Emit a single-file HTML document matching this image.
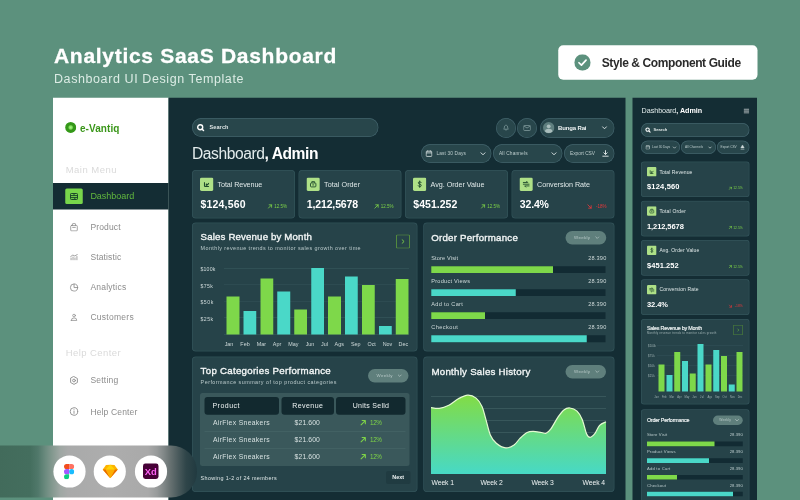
<!DOCTYPE html>
<html lang="en"><head><meta charset="utf-8"><title>Analytics SaaS Dashboard</title>
<style>
html,body{margin:0;padding:0}
html{overflow:hidden;background:#5c917d}
body{width:800px;height:500px;overflow:hidden;position:relative;background:#5c917d;font-family:"Liberation Sans", sans-serif;}
#frame{position:absolute;left:0;top:0;width:800px;height:500px;overflow:hidden;background:#5c917d}
#stage{position:absolute;left:0;top:0;width:3200px;height:2000px;transform:scale(0.25);transform-origin:0 0}
span,div,svg{box-sizing:border-box}
</style></head><body>
<div id="frame"><div id="stage">
<span id="t0" style="position:absolute;top:181.69px;font-size:84.00px;line-height:1;color:#fff;font-weight:700;white-space:nowrap;letter-spacing:2.816px;left:216.00px;-webkit-text-stroke:1.20px #fff;">Analytics SaaS Dashboard</span>
<span id="t1" style="position:absolute;top:290.48px;font-size:50.00px;line-height:1;color:#dcece5;font-weight:400;white-space:nowrap;letter-spacing:2.360px;left:216.00px;">Dashboard UI Design Template</span>
<div style="position:absolute;left:2233.20px;top:180.80px;width:797.20px;height:138.40px;background:#fff;border-radius:20.00px;"></div>
<svg style="position:absolute;left:2297.20px;top:217.20px" width="65.60" height="65.60" viewBox="0 0 16.4 16.4"><circle cx="8.2" cy="8.2" r="8.2" fill="#5c917d"/><path d="M4.7 8.5 L7.2 10.9 L11.8 5.9" fill="none" stroke="#fff" stroke-width="1.7" stroke-linecap="round" stroke-linejoin="round"/></svg>
<span id="t2" style="position:absolute;top:225.77px;font-size:48.00px;line-height:1;color:#2b2b2b;font-weight:700;white-space:nowrap;letter-spacing:-1.568px;left:2406.80px;">Style &amp; Component Guide</span>
<div style="position:absolute;left:212.00px;top:390.80px;width:462.40px;height:1609.20px;background:#fff;border-radius:0.00px;"></div>
<svg style="position:absolute;left:259.60px;top:486.80px" width="45.60" height="45.60" viewBox="0 0 11.4 11.4"><defs><radialGradient id="lg"><stop offset="0" stop-color="#a6f488"/><stop offset="0.28" stop-color="#84e25e"/><stop offset="0.5" stop-color="#36961a"/><stop offset="1" stop-color="#339a17"/></radialGradient></defs><circle cx="5.7" cy="5.7" r="5.5" fill="url(#lg)"/></svg>
<span id="t3" style="position:absolute;top:491.74px;font-size:40.00px;line-height:1;color:#3a9619;font-weight:700;white-space:nowrap;letter-spacing:0.252px;left:320.00px;">e-Vantiq</span>
<span id="t4" style="position:absolute;top:659.83px;font-size:38.00px;line-height:1;color:#dadada;font-weight:400;white-space:nowrap;letter-spacing:1.912px;left:262.80px;">Main Menu</span>
<div style="position:absolute;left:212.00px;top:732.00px;width:462.40px;height:105.60px;background:#142d34;border-radius:0.00px;"></div>
<div style="position:absolute;left:260.80px;top:754.40px;width:70.40px;height:61.60px;background:#78d64b;border-radius:6.00px;"></div>
<svg style="position:absolute;left:280.00px;top:772.00px" width="32.00" height="28.00" viewBox="0 0 8 7"><g fill="none" stroke="#1c4a2a" stroke-width="1"><rect x="0.5" y="0.5" width="7" height="6" rx="0.8"/><path d="M0.5 2.6H7.5M0.5 4.6H7.5M4 0.5V2.6M4.8 4.6V6.5"/></g></svg>
<span id="t5" style="position:absolute;top:767.13px;font-size:36.00px;line-height:1;color:#62b83e;font-weight:400;white-space:nowrap;letter-spacing:-0.104px;left:361.60px;">Dashboard</span>
<span id="t6" style="position:absolute;top:890.42px;font-size:34.00px;line-height:1;color:#8c8c8c;font-weight:400;white-space:nowrap;letter-spacing:0.632px;left:361.60px;">Product</span>
<span id="t7" style="position:absolute;top:1012.42px;font-size:34.00px;line-height:1;color:#8c8c8c;font-weight:400;white-space:nowrap;letter-spacing:0.552px;left:361.60px;">Statistic</span>
<span id="t8" style="position:absolute;top:1132.42px;font-size:34.00px;line-height:1;color:#8c8c8c;font-weight:400;white-space:nowrap;letter-spacing:0.880px;left:361.60px;">Analytics</span>
<span id="t9" style="position:absolute;top:1252.42px;font-size:34.00px;line-height:1;color:#8c8c8c;font-weight:400;white-space:nowrap;letter-spacing:1.068px;left:361.60px;">Customers</span>
<span id="t10" style="position:absolute;top:1393.43px;font-size:38.00px;line-height:1;color:#dadada;font-weight:400;white-space:nowrap;letter-spacing:1.676px;left:262.80px;">Help Center</span>
<span id="t11" style="position:absolute;top:1504.42px;font-size:34.00px;line-height:1;color:#8c8c8c;font-weight:400;white-space:nowrap;letter-spacing:0.876px;left:361.60px;">Setting</span>
<span id="t12" style="position:absolute;top:1629.22px;font-size:34.00px;line-height:1;color:#8c8c8c;font-weight:400;white-space:nowrap;letter-spacing:0.600px;left:361.60px;">Help Center</span>
<svg style="position:absolute;left:280.00px;top:890.80px" width="32.00" height="35.60" viewBox="0 0 9 10"><g fill="none" stroke="#8c8c8c" stroke-width="0.9" stroke-linecap="round" stroke-linejoin="round"><rect x="0.8" y="3" width="7.4" height="6.2" rx="1"/><path d="M2.8 3V1.6Q2.8 0.8 3.6 0.8H5.4Q6.2 0.8 6.2 1.6V3M3 5.2H6"/></g></svg>
<svg style="position:absolute;left:280.00px;top:1016.00px" width="32.00" height="25.60" viewBox="0 0 9 7.2"><g fill="none" stroke="#8c8c8c" stroke-width="0.9" stroke-linecap="round" stroke-linejoin="round"><path d="M1.2 6.7V4.6M3.4 6.7V3.4M5.6 6.7V4.4M7.8 6.7V2.8M0.8 2.8L3.2 1.2L5.4 2.2L8.2 0.6"/></g></svg>
<svg style="position:absolute;left:279.20px;top:1132.80px" width="34.40" height="34.40" viewBox="0 0 9 9"><g fill="none" stroke="#8c8c8c" stroke-width="0.9" stroke-linecap="round" stroke-linejoin="round"><circle cx="4.5" cy="4.5" r="3.8"/><path d="M4.5 0.7V4.5H8.3"/></g></svg>
<svg style="position:absolute;left:280.80px;top:1253.60px" width="30.40" height="30.40" viewBox="0 0 9 9"><g fill="none" stroke="#8c8c8c" stroke-width="0.9" stroke-linecap="round" stroke-linejoin="round"><circle cx="4.5" cy="2.4" r="1.6"/><path d="M1.2 8.2H7.8Q7.8 5.2 4.5 5.2Q1.2 5.2 1.2 8.2Z"/></g></svg>
<svg style="position:absolute;left:278.00px;top:1504.00px" width="36.00" height="36.00" viewBox="0 0 9 9"><g fill="none" stroke="#8c8c8c" stroke-width="0.9" stroke-linecap="round" stroke-linejoin="round"><path d="M4.5 0.6 L7.9 2.5 V6.5 L4.5 8.4 L1.1 6.5 V2.5 Z"/><circle cx="4.5" cy="4.5" r="1.4"/></g></svg>
<svg style="position:absolute;left:278.00px;top:1628.00px" width="36.00" height="36.00" viewBox="0 0 9 9"><g fill="none" stroke="#8c8c8c" stroke-width="0.9" stroke-linecap="round" stroke-linejoin="round"><circle cx="4.5" cy="4.5" r="3.8"/><path d="M4.5 4.2V6.4M4.5 2.7V2.8"/></g></svg>
<div style="position:absolute;left:674.40px;top:390.80px;width:1828.00px;height:1609.20px;background:#142d34;border-radius:0.00px;"></div>
<div style="position:absolute;left:768.00px;top:472.00px;width:745.60px;height:76.00px;background:#28464b;border-radius:38.00px;box-shadow:inset 0 0 0 2.80px #40616a;"></div>
<svg style="position:absolute;left:786.00px;top:494.00px" width="32.00" height="32.00" viewBox="0 0 8 8"><circle cx="3.7" cy="3.7" r="2.5" fill="none" stroke="#fff" stroke-width="1.4"/><path d="M5.7 5.7L7.2 7.2" stroke="#fff" stroke-width="1.5" stroke-linecap="round"/></svg>
<span id="t13" style="position:absolute;top:496.98px;font-size:22.00px;line-height:1;color:#dfe6e6;font-weight:700;white-space:nowrap;letter-spacing:0.568px;left:837.60px;">Search</span>
<div style="position:absolute;left:1984.00px;top:472.00px;width:80.00px;height:80.00px;background:#28464b;border-radius:40.00px;box-shadow:inset 0 0 0 2.80px #40616a;"></div>
<svg style="position:absolute;left:2012.00px;top:497.20px" width="24.00" height="27.00" viewBox="0 0 8 9"><path d="M4 0.8Q6.4 1.5 6.4 5.2L7 6.6H1L1.6 5.2Q1.6 1.5 4 0.8ZM3 7.6H5" fill="none" stroke="#7f9a9b" stroke-width="1" stroke-linejoin="round"/></svg>
<div style="position:absolute;left:2068.00px;top:472.00px;width:80.00px;height:80.00px;background:#28464b;border-radius:40.00px;box-shadow:inset 0 0 0 2.80px #40616a;"></div>
<svg style="position:absolute;left:2092.80px;top:500.00px" width="30.40" height="23.60" viewBox="0 0 9 7"><rect x="0.5" y="0.5" width="8" height="6" rx="0.8" fill="none" stroke="#7f9a9b" stroke-width="1"/><path d="M0.8 1.2L4.5 3.6L8.2 1.2" fill="none" stroke="#7f9a9b" stroke-width="1"/></svg>
<div style="position:absolute;left:2160.00px;top:472.00px;width:297.60px;height:80.00px;background:#28464b;border-radius:40.00px;box-shadow:inset 0 0 0 2.80px #40616a;"></div>
<svg style="position:absolute;left:2172.00px;top:488.00px" width="45.60" height="45.60" viewBox="0 0 11.4 11.4"><circle cx="5.7" cy="5.7" r="5.7" fill="#5f7f7f"/><circle cx="5.7" cy="4.3" r="1.9" fill="#a9bdbc"/><path d="M2 9.4Q2 6.8 5.7 6.8Q9.4 6.8 9.4 9.4Q7.8 11 5.7 11Q3.6 11 2 9.4Z" fill="#a9bdbc"/></svg>
<span id="t14" style="position:absolute;top:498.48px;font-size:24.00px;line-height:1;color:#f0f4f4;font-weight:700;white-space:nowrap;letter-spacing:-0.564px;left:2232.00px;">Bunga Rai</span>
<svg style="position:absolute;left:2406.00px;top:502.00px" width="24.00" height="20.00" viewBox="0 0 6 5"><path d="M1 1.3L3 3.3L5 1.3" fill="none" stroke="#e8eeee" stroke-width="0.9" stroke-linecap="round" stroke-linejoin="round"/></svg>
<span id="t15" style="position:absolute;top:581.58px;font-size:62.40px;line-height:1;color:#e3ecec;font-weight:400;white-space:nowrap;letter-spacing:-1.732px;left:768.00px;">Dashboard<b style="color:#fff">, Admin</b></span>
<div style="position:absolute;left:1684.00px;top:576.00px;width:282.40px;height:76.00px;background:#28464b;border-radius:38.00px;box-shadow:inset 0 0 0 2.80px #40616a;"></div>
<svg style="position:absolute;left:1702.00px;top:600.00px" width="28.00" height="28.00" viewBox="0 0 7 7"><rect x="0.6" y="1.2" width="5.8" height="5.2" rx="0.8" fill="none" stroke="#dfe8e8" stroke-width="0.8"/><path d="M0.6 2.9H6.4M2.2 0.4V1.6M4.8 0.4V1.6" stroke="#dfe8e8" stroke-width="0.8"/></svg>
<span id="t16" style="position:absolute;top:604.15px;font-size:19.20px;line-height:1;color:#bccccc;font-weight:400;white-space:nowrap;letter-spacing:0.500px;left:1746.00px;">Last 30 Days</span>
<svg style="position:absolute;left:1920.00px;top:606.00px" width="24.00" height="20.00" viewBox="0 0 6 5"><path d="M1 1.3L3 3.3L5 1.3" fill="none" stroke="#e8eeee" stroke-width="0.9" stroke-linecap="round" stroke-linejoin="round"/></svg>
<div style="position:absolute;left:1972.00px;top:576.00px;width:278.40px;height:76.00px;background:#28464b;border-radius:38.00px;box-shadow:inset 0 0 0 2.80px #40616a;"></div>
<span id="t17" style="position:absolute;top:604.15px;font-size:19.20px;line-height:1;color:#bccccc;font-weight:400;white-space:nowrap;letter-spacing:0.588px;left:1996.00px;">All Channels</span>
<svg style="position:absolute;left:2204.00px;top:606.00px" width="24.00" height="20.00" viewBox="0 0 6 5"><path d="M1 1.3L3 3.3L5 1.3" fill="none" stroke="#e8eeee" stroke-width="0.9" stroke-linecap="round" stroke-linejoin="round"/></svg>
<div style="position:absolute;left:2256.00px;top:576.00px;width:201.60px;height:76.00px;background:#28464b;border-radius:38.00px;box-shadow:inset 0 0 0 2.80px #40616a;"></div>
<span id="t18" style="position:absolute;top:604.15px;font-size:19.20px;line-height:1;color:#bccccc;font-weight:400;white-space:nowrap;letter-spacing:-0.024px;left:2280.00px;">Export CSV</span>
<svg style="position:absolute;left:2408.00px;top:600.00px" width="28.00" height="28.00" viewBox="0 0 7 7"><path d="M3.5 0.6V4.2M1.8 2.8L3.5 4.5L5.2 2.8M0.8 6.2H6.2" fill="none" stroke="#e8eeee" stroke-width="0.9" stroke-linecap="round" stroke-linejoin="round"/></svg>
<div style="position:absolute;left:768.00px;top:680.00px;width:412.00px;height:194.40px;background:#264349;border-radius:16.00px;box-shadow:inset 0 0 0 2.80px #33545a;"></div>
<svg style="position:absolute;left:800.00px;top:710.40px" width="53.60" height="53.60" viewBox="0 0 13.4 13.4"><rect width="13.4" height="13.4" rx="1.6" fill="#aee087"/><g transform="translate(6.7 6.7) scale(0.82) translate(-6.7 -6.7)"><path d="M4 9.6V4.2M4 9.6H9.4M6.2 9.6V6.4L7.8 7.6L9.2 5.2" fill="none" stroke="#1f4a2c" stroke-width="1.3" stroke-linejoin="round"/></g></svg>
<span id="t19" style="position:absolute;top:722.82px;font-size:28.80px;line-height:1;color:#dfe8e8;font-weight:400;white-space:nowrap;letter-spacing:-0.440px;left:870.40px;">Total Revenue</span>
<span id="t20" style="position:absolute;top:796.45px;font-size:42.00px;line-height:1;color:#fff;font-weight:700;white-space:nowrap;letter-spacing:0.800px;left:801.60px;">$124,560</span>
<svg style="position:absolute;left:1070.00px;top:816.00px" width="20.00" height="20.00" viewBox="0 0 6 6"><path d="M1 5L5 1M2 1H5V4" fill="none" stroke="#7ed348" stroke-width="1" stroke-linecap="round" stroke-linejoin="round"/></svg>
<span id="t21" style="position:absolute;top:816.76px;font-size:18.00px;line-height:1;color:#7ed348;font-weight:400;white-space:nowrap;right:2052.00px;">12.5%</span>
<div style="position:absolute;left:1193.88px;top:680.00px;width:412.00px;height:194.40px;background:#264349;border-radius:16.00px;box-shadow:inset 0 0 0 2.80px #33545a;"></div>
<svg style="position:absolute;left:1225.88px;top:710.40px" width="53.60" height="53.60" viewBox="0 0 13.4 13.4"><rect width="13.4" height="13.4" rx="1.6" fill="#aee087"/><g transform="translate(6.7 6.7) scale(0.82) translate(-6.7 -6.7)"><path d="M4.4 5.2H9Q10 5.2 10 6.2V9Q10 10 9 10H4.4Q3.4 10 3.4 9V6.2Q3.4 5.2 4.4 5.2ZM5 5V3.6H8.4V5M5.6 7.6H7.8" fill="none" stroke="#1f4a2c" stroke-width="1.1" stroke-linejoin="round"/></g></svg>
<span id="t22" style="position:absolute;top:722.82px;font-size:28.80px;line-height:1;color:#dfe8e8;font-weight:400;white-space:nowrap;letter-spacing:0.144px;left:1296.28px;">Total Order</span>
<span id="t23" style="position:absolute;top:796.45px;font-size:42.00px;line-height:1;color:#fff;font-weight:700;white-space:nowrap;letter-spacing:-0.620px;left:1227.48px;">1,212,5678</span>
<svg style="position:absolute;left:1495.88px;top:816.00px" width="20.00" height="20.00" viewBox="0 0 6 6"><path d="M1 5L5 1M2 1H5V4" fill="none" stroke="#7ed348" stroke-width="1" stroke-linecap="round" stroke-linejoin="round"/></svg>
<span id="t24" style="position:absolute;top:816.76px;font-size:18.00px;line-height:1;color:#7ed348;font-weight:400;white-space:nowrap;right:1626.12px;">12.5%</span>
<div style="position:absolute;left:1619.76px;top:680.00px;width:412.00px;height:194.40px;background:#264349;border-radius:16.00px;box-shadow:inset 0 0 0 2.80px #33545a;"></div>
<svg style="position:absolute;left:1651.76px;top:710.40px" width="53.60" height="53.60" viewBox="0 0 13.4 13.4"><rect width="13.4" height="13.4" rx="1.6" fill="#aee087"/><g transform="translate(6.7 6.7) scale(0.82) translate(-6.7 -6.7)"><path d="M8.6 4.8Q8.2 3.8 6.7 3.8Q5 3.8 5 5.1Q5 6.3 6.7 6.6Q8.6 6.9 8.6 8.2Q8.6 9.6 6.7 9.6Q5.2 9.6 4.8 8.5M6.7 2.8V10.6" fill="none" stroke="#1f4a2c" stroke-width="1.1" stroke-linecap="round"/></g></svg>
<span id="t25" style="position:absolute;top:722.82px;font-size:28.80px;line-height:1;color:#dfe8e8;font-weight:400;white-space:nowrap;letter-spacing:-0.140px;left:1722.16px;">Avg. Order Value</span>
<span id="t26" style="position:absolute;top:796.45px;font-size:42.00px;line-height:1;color:#fff;font-weight:700;white-space:nowrap;letter-spacing:0.100px;left:1653.36px;">$451.252</span>
<svg style="position:absolute;left:1921.76px;top:816.00px" width="20.00" height="20.00" viewBox="0 0 6 6"><path d="M1 5L5 1M2 1H5V4" fill="none" stroke="#7ed348" stroke-width="1" stroke-linecap="round" stroke-linejoin="round"/></svg>
<span id="t27" style="position:absolute;top:816.76px;font-size:18.00px;line-height:1;color:#7ed348;font-weight:400;white-space:nowrap;right:1200.24px;">12.5%</span>
<div style="position:absolute;left:2045.64px;top:680.00px;width:412.00px;height:194.40px;background:#264349;border-radius:16.00px;box-shadow:inset 0 0 0 2.80px #33545a;"></div>
<svg style="position:absolute;left:2077.64px;top:710.40px" width="53.60" height="53.60" viewBox="0 0 13.4 13.4"><rect width="13.4" height="13.4" rx="1.6" fill="#aee087"/><g transform="translate(6.7 6.7) scale(0.82) translate(-6.7 -6.7)"><path d="M3.2 4.6H8.6L7.2 3.2M10.2 8.8H4.8L6.2 10.2M3.2 6.7H10.2" fill="none" stroke="#1f4a2c" stroke-width="1.1" stroke-linecap="round" stroke-linejoin="round"/></g></svg>
<span id="t28" style="position:absolute;top:722.82px;font-size:28.80px;line-height:1;color:#dfe8e8;font-weight:400;white-space:nowrap;letter-spacing:-0.168px;left:2148.04px;">Conversion Rate</span>
<span id="t29" style="position:absolute;top:796.45px;font-size:42.00px;line-height:1;color:#fff;font-weight:700;white-space:nowrap;letter-spacing:-0.620px;left:2079.24px;">32.4%</span>
<svg style="position:absolute;left:2347.64px;top:816.00px" width="20.00" height="20.00" viewBox="0 0 6 6"><path d="M1 1L5 5M2 5H5V2" fill="none" stroke="#e5383b" stroke-width="1" stroke-linecap="round" stroke-linejoin="round"/></svg>
<span id="t30" style="position:absolute;top:816.76px;font-size:18.00px;line-height:1;color:#e5383b;font-weight:400;white-space:nowrap;right:774.36px;">-18%</span>
<div style="position:absolute;left:768.00px;top:890.00px;width:902.40px;height:516.00px;background:#264349;border-radius:16.00px;box-shadow:inset 0 0 0 2.80px #33545a;"></div>
<span id="t31" style="position:absolute;top:927.16px;font-size:38.80px;line-height:1;color:#f2f6f6;font-weight:400;white-space:nowrap;letter-spacing:0.552px;left:802.40px;-webkit-text-stroke:1.40px currentColor;">Sales Revenue by Month</span>
<span id="t32" style="position:absolute;top:982.52px;font-size:21.60px;line-height:1;color:#b9c9ca;font-weight:400;white-space:nowrap;letter-spacing:1.640px;left:802.40px;">Monthly revenue trends to monitor sales growth over time</span>
<div style="position:absolute;left:1584.00px;top:938.40px;width:56.00px;height:56.00px;background:transparent;border-radius:6.00px;box-shadow:inset 0 0 0 3.20px #5f9d3c;"></div>
<svg style="position:absolute;left:1602.00px;top:954.40px" width="20.00" height="24.00" viewBox="0 0 5 6"><path d="M1.6 1.2L3.6 3L1.6 4.8" fill="none" stroke="#7ed348" stroke-width="0.9" stroke-linecap="round" stroke-linejoin="round"/></svg>
<div style="position:absolute;left:896.00px;top:1072.40px;width:740.00px;height:2.40px;background:#35555a;border-radius:0.00px;"></div>
<span id="t33" style="position:absolute;top:1068.39px;font-size:20.80px;line-height:1;color:#cfdada;font-weight:400;white-space:nowrap;letter-spacing:0.824px;left:801.60px;">$100k</span>
<div style="position:absolute;left:896.00px;top:1138.00px;width:740.00px;height:2.40px;background:#35555a;border-radius:0.00px;"></div>
<span id="t34" style="position:absolute;top:1133.99px;font-size:20.80px;line-height:1;color:#cfdada;font-weight:400;white-space:nowrap;letter-spacing:1.724px;left:801.60px;">$75k</span>
<div style="position:absolute;left:896.00px;top:1203.60px;width:740.00px;height:2.40px;background:#35555a;border-radius:0.00px;"></div>
<span id="t35" style="position:absolute;top:1199.59px;font-size:20.80px;line-height:1;color:#cfdada;font-weight:400;white-space:nowrap;letter-spacing:2.224px;left:801.60px;">$50k</span>
<div style="position:absolute;left:896.00px;top:1269.20px;width:740.00px;height:2.40px;background:#35555a;border-radius:0.00px;"></div>
<span id="t36" style="position:absolute;top:1265.19px;font-size:20.80px;line-height:1;color:#cfdada;font-weight:400;white-space:nowrap;letter-spacing:1.924px;left:801.60px;">$25k</span>
<div style="position:absolute;left:896.00px;top:1336.40px;width:740.00px;height:2.40px;background:#35555a;border-radius:0.00px;"></div>
<div style="position:absolute;left:906.40px;top:1186.40px;width:51.20px;height:151.20px;background:#7ed84a;border-radius:0.00px;"></div>
<div style="position:absolute;left:974.08px;top:1244.00px;width:51.20px;height:93.60px;background:#4ad8c8;border-radius:0.00px;"></div>
<div style="position:absolute;left:1041.76px;top:1114.40px;width:51.20px;height:223.20px;background:#7ed84a;border-radius:0.00px;"></div>
<div style="position:absolute;left:1109.44px;top:1166.40px;width:51.20px;height:171.20px;background:#4ad8c8;border-radius:0.00px;"></div>
<div style="position:absolute;left:1177.12px;top:1237.60px;width:51.20px;height:100.00px;background:#7ed84a;border-radius:0.00px;"></div>
<div style="position:absolute;left:1244.80px;top:1072.00px;width:51.20px;height:265.60px;background:#4ad8c8;border-radius:0.00px;"></div>
<div style="position:absolute;left:1312.48px;top:1186.40px;width:51.20px;height:151.20px;background:#7ed84a;border-radius:0.00px;"></div>
<div style="position:absolute;left:1380.16px;top:1105.60px;width:51.20px;height:232.00px;background:#4ad8c8;border-radius:0.00px;"></div>
<div style="position:absolute;left:1447.84px;top:1140.00px;width:51.20px;height:197.60px;background:#7ed84a;border-radius:0.00px;"></div>
<div style="position:absolute;left:1515.52px;top:1304.00px;width:51.20px;height:33.60px;background:#4ad8c8;border-radius:0.00px;"></div>
<div style="position:absolute;left:1583.20px;top:1116.00px;width:51.20px;height:221.60px;background:#7ed84a;border-radius:0.00px;"></div>
<span id="t37" style="position:absolute;top:1365.72px;font-size:21.60px;line-height:1;color:#cfdada;font-weight:400;white-space:nowrap;left:916.00px;transform:translateX(-50%);margin-left:0.00px;">Jan</span>
<span id="t38" style="position:absolute;top:1365.72px;font-size:21.60px;line-height:1;color:#cfdada;font-weight:400;white-space:nowrap;left:980.00px;transform:translateX(-50%);margin-left:0.00px;">Feb</span>
<span id="t39" style="position:absolute;top:1365.72px;font-size:21.60px;line-height:1;color:#cfdada;font-weight:400;white-space:nowrap;left:1046.00px;transform:translateX(-50%);margin-left:0.00px;">Mar</span>
<span id="t40" style="position:absolute;top:1365.72px;font-size:21.60px;line-height:1;color:#cfdada;font-weight:400;white-space:nowrap;left:1108.00px;transform:translateX(-50%);margin-left:0.00px;">Apr</span>
<span id="t41" style="position:absolute;top:1365.72px;font-size:21.60px;line-height:1;color:#cfdada;font-weight:400;white-space:nowrap;left:1173.20px;transform:translateX(-50%);margin-left:0.00px;">May</span>
<span id="t42" style="position:absolute;top:1365.72px;font-size:21.60px;line-height:1;color:#cfdada;font-weight:400;white-space:nowrap;left:1240.00px;transform:translateX(-50%);margin-left:0.00px;">Jun</span>
<span id="t43" style="position:absolute;top:1365.72px;font-size:21.60px;line-height:1;color:#cfdada;font-weight:400;white-space:nowrap;left:1298.00px;transform:translateX(-50%);margin-left:0.00px;">Jul</span>
<span id="t44" style="position:absolute;top:1365.72px;font-size:21.60px;line-height:1;color:#cfdada;font-weight:400;white-space:nowrap;left:1356.80px;transform:translateX(-50%);margin-left:0.00px;">Ags</span>
<span id="t45" style="position:absolute;top:1365.72px;font-size:21.60px;line-height:1;color:#cfdada;font-weight:400;white-space:nowrap;left:1423.20px;transform:translateX(-50%);margin-left:0.00px;">Sep</span>
<span id="t46" style="position:absolute;top:1365.72px;font-size:21.60px;line-height:1;color:#cfdada;font-weight:400;white-space:nowrap;left:1486.60px;transform:translateX(-50%);margin-left:0.00px;">Oct</span>
<span id="t47" style="position:absolute;top:1365.72px;font-size:21.60px;line-height:1;color:#cfdada;font-weight:400;white-space:nowrap;left:1550.00px;transform:translateX(-50%);margin-left:0.00px;">Nov</span>
<span id="t48" style="position:absolute;top:1365.72px;font-size:21.60px;line-height:1;color:#cfdada;font-weight:400;white-space:nowrap;left:1613.40px;transform:translateX(-50%);margin-left:0.00px;">Dec</span>
<div style="position:absolute;left:1692.80px;top:890.00px;width:764.80px;height:516.00px;background:#264349;border-radius:16.00px;box-shadow:inset 0 0 0 2.80px #33545a;"></div>
<span id="t49" style="position:absolute;top:931.16px;font-size:38.80px;line-height:1;color:#f2f6f6;font-weight:400;white-space:nowrap;letter-spacing:0.892px;left:1724.80px;-webkit-text-stroke:1.40px currentColor;">Order Performance</span>
<div style="position:absolute;left:2261.60px;top:924.00px;width:163.60px;height:53.60px;background:#5f7f7c;border-radius:26.80px;"></div>
<span id="t50" style="position:absolute;top:941.71px;font-size:17.60px;line-height:1;color:#b7c9c7;font-weight:400;white-space:nowrap;letter-spacing:1.344px;left:2295.96px;">Weekly</span>
<svg style="position:absolute;left:2379.39px;top:942.80px" width="20.00" height="16.00" viewBox="0 0 5 4"><path d="M1 1.2L2.5 2.7L4 1.2" fill="none" stroke="#b7c9c7" stroke-width="0.7" stroke-linecap="round" stroke-linejoin="round"/></svg>
<span id="t51" style="position:absolute;top:1022.64px;font-size:22.40px;line-height:1;color:#cfdada;font-weight:400;white-space:nowrap;letter-spacing:0.580px;left:1724.80px;">Store Visit</span>
<span id="t52" style="position:absolute;top:1022.64px;font-size:22.40px;line-height:1;color:#cfdada;font-weight:400;white-space:nowrap;letter-spacing:0.784px;right:774.02px;">28.390</span>
<div style="position:absolute;left:1724.80px;top:1064.80px;width:697.60px;height:27.20px;background:#122b33;border-radius:0.00px;"></div>
<div style="position:absolute;left:1724.80px;top:1064.80px;width:487.20px;height:27.20px;background:#7ed84a;border-radius:0.00px;"></div>
<span id="t53" style="position:absolute;top:1114.84px;font-size:22.40px;line-height:1;color:#cfdada;font-weight:400;white-space:nowrap;letter-spacing:1.020px;left:1724.80px;">Product Views</span>
<span id="t54" style="position:absolute;top:1114.84px;font-size:22.40px;line-height:1;color:#cfdada;font-weight:400;white-space:nowrap;letter-spacing:0.784px;right:774.02px;">28.390</span>
<div style="position:absolute;left:1724.80px;top:1157.00px;width:697.60px;height:27.20px;background:#122b33;border-radius:0.00px;"></div>
<div style="position:absolute;left:1724.80px;top:1157.00px;width:338.40px;height:27.20px;background:#4ad8c8;border-radius:0.00px;"></div>
<span id="t55" style="position:absolute;top:1207.04px;font-size:22.40px;line-height:1;color:#cfdada;font-weight:400;white-space:nowrap;letter-spacing:1.340px;left:1724.80px;">Add to Cart</span>
<span id="t56" style="position:absolute;top:1207.04px;font-size:22.40px;line-height:1;color:#cfdada;font-weight:400;white-space:nowrap;letter-spacing:0.784px;right:774.02px;">28.390</span>
<div style="position:absolute;left:1724.80px;top:1249.20px;width:697.60px;height:27.20px;background:#122b33;border-radius:0.00px;"></div>
<div style="position:absolute;left:1724.80px;top:1249.20px;width:215.20px;height:27.20px;background:#7ed84a;border-radius:0.00px;"></div>
<span id="t57" style="position:absolute;top:1299.24px;font-size:22.40px;line-height:1;color:#cfdada;font-weight:400;white-space:nowrap;letter-spacing:1.676px;left:1724.80px;">Checkout</span>
<span id="t58" style="position:absolute;top:1299.24px;font-size:22.40px;line-height:1;color:#cfdada;font-weight:400;white-space:nowrap;letter-spacing:0.784px;right:774.02px;">28.390</span>
<div style="position:absolute;left:1724.80px;top:1341.40px;width:697.60px;height:27.20px;background:#122b33;border-radius:0.00px;"></div>
<div style="position:absolute;left:1724.80px;top:1341.40px;width:622.00px;height:27.20px;background:#4ad8c8;border-radius:0.00px;"></div>
<div style="position:absolute;left:768.00px;top:1426.00px;width:902.40px;height:542.00px;background:#264349;border-radius:16.00px;box-shadow:inset 0 0 0 2.80px #33545a;"></div>
<span id="t59" style="position:absolute;top:1463.16px;font-size:38.80px;line-height:1;color:#f2f6f6;font-weight:400;white-space:nowrap;letter-spacing:1.068px;left:802.40px;-webkit-text-stroke:1.40px currentColor;">Top Categories Performance</span>
<span id="t60" style="position:absolute;top:1518.92px;font-size:21.60px;line-height:1;color:#b9c9ca;font-weight:400;white-space:nowrap;letter-spacing:1.856px;left:802.40px;">Performance summary of top product categories</span>
<div style="position:absolute;left:1472.00px;top:1476.00px;width:162.40px;height:54.40px;background:#5f7f7c;border-radius:27.20px;"></div>
<span id="t61" style="position:absolute;top:1494.11px;font-size:17.60px;line-height:1;color:#b7c9c7;font-weight:400;white-space:nowrap;letter-spacing:1.264px;left:1506.10px;">Weekly</span>
<svg style="position:absolute;left:1588.93px;top:1495.20px" width="20.00" height="16.00" viewBox="0 0 5 4"><path d="M1 1.2L2.5 2.7L4 1.2" fill="none" stroke="#b7c9c7" stroke-width="0.7" stroke-linecap="round" stroke-linejoin="round"/></svg>
<div style="position:absolute;left:800.00px;top:1572.00px;width:838.40px;height:292.00px;background:#3a585b;border-radius:10.00px;"></div>
<div style="position:absolute;left:818.40px;top:1588.00px;width:297.60px;height:71.20px;background:#12292f;border-radius:12.00px;"></div>
<div style="position:absolute;left:1126.40px;top:1588.00px;width:209.60px;height:71.20px;background:#12292f;border-radius:12.00px;"></div>
<div style="position:absolute;left:1344.00px;top:1588.00px;width:278.40px;height:71.20px;background:#12292f;border-radius:12.00px;"></div>
<span id="t62" style="position:absolute;top:1608.30px;font-size:28.00px;line-height:1;color:#eef3f3;font-weight:400;white-space:nowrap;letter-spacing:1.984px;left:849.60px;">Product</span>
<span id="t63" style="position:absolute;top:1608.30px;font-size:28.00px;line-height:1;color:#eef3f3;font-weight:400;white-space:nowrap;letter-spacing:1.700px;left:1230.40px;transform:translateX(-50%);margin-left:0.85px;">Revenue</span>
<span id="t64" style="position:absolute;top:1608.30px;font-size:28.00px;line-height:1;color:#eef3f3;font-weight:400;white-space:nowrap;letter-spacing:1.140px;left:1483.20px;transform:translateX(-50%);margin-left:0.57px;">Units Selld</span>
<span id="t65" style="position:absolute;top:1676.98px;font-size:27.20px;line-height:1;color:#d6e0e0;font-weight:400;white-space:nowrap;letter-spacing:1.312px;left:852.00px;">AirFlex Sneakers</span>
<span id="t66" style="position:absolute;top:1676.98px;font-size:27.20px;line-height:1;color:#d6e0e0;font-weight:400;white-space:nowrap;letter-spacing:0.476px;left:1178.40px;">$21.600</span>
<svg style="position:absolute;left:1440.00px;top:1677.60px" width="25.60" height="25.60" viewBox="0 0 6 6"><path d="M1 5L5 1M2 1H5V4" fill="none" stroke="#7ed348" stroke-width="1" stroke-linecap="round" stroke-linejoin="round"/></svg>
<span id="t67" style="position:absolute;top:1678.27px;font-size:25.20px;line-height:1;color:#7ed348;font-weight:400;white-space:nowrap;letter-spacing:-1.340px;left:1480.00px;">12%</span>
<div style="position:absolute;left:818.40px;top:1723.60px;width:804.00px;height:2.00px;background:#4b6b6d;border-radius:0.00px;"></div>
<span id="t68" style="position:absolute;top:1744.98px;font-size:27.20px;line-height:1;color:#d6e0e0;font-weight:400;white-space:nowrap;letter-spacing:1.312px;left:852.00px;">AirFlex Sneakers</span>
<span id="t69" style="position:absolute;top:1744.98px;font-size:27.20px;line-height:1;color:#d6e0e0;font-weight:400;white-space:nowrap;letter-spacing:0.476px;left:1178.40px;">$21.600</span>
<svg style="position:absolute;left:1440.00px;top:1745.60px" width="25.60" height="25.60" viewBox="0 0 6 6"><path d="M1 5L5 1M2 1H5V4" fill="none" stroke="#7ed348" stroke-width="1" stroke-linecap="round" stroke-linejoin="round"/></svg>
<span id="t70" style="position:absolute;top:1746.27px;font-size:25.20px;line-height:1;color:#7ed348;font-weight:400;white-space:nowrap;letter-spacing:-1.340px;left:1480.00px;">12%</span>
<div style="position:absolute;left:818.40px;top:1791.60px;width:804.00px;height:2.00px;background:#4b6b6d;border-radius:0.00px;"></div>
<span id="t71" style="position:absolute;top:1812.98px;font-size:27.20px;line-height:1;color:#d6e0e0;font-weight:400;white-space:nowrap;letter-spacing:1.312px;left:852.00px;">AirFlex Sneakers</span>
<span id="t72" style="position:absolute;top:1812.98px;font-size:27.20px;line-height:1;color:#d6e0e0;font-weight:400;white-space:nowrap;letter-spacing:0.476px;left:1178.40px;">$21.600</span>
<svg style="position:absolute;left:1440.00px;top:1813.60px" width="25.60" height="25.60" viewBox="0 0 6 6"><path d="M1 5L5 1M2 1H5V4" fill="none" stroke="#7ed348" stroke-width="1" stroke-linecap="round" stroke-linejoin="round"/></svg>
<span id="t73" style="position:absolute;top:1814.27px;font-size:25.20px;line-height:1;color:#7ed348;font-weight:400;white-space:nowrap;letter-spacing:-1.340px;left:1480.00px;">12%</span>
<span id="t74" style="position:absolute;top:1901.72px;font-size:21.60px;line-height:1;color:#dfe8e8;font-weight:400;white-space:nowrap;letter-spacing:1.420px;left:802.40px;">Showing 1-2 of 24 members</span>
<div style="position:absolute;left:1544.00px;top:1884.00px;width:97.60px;height:52.00px;background:#203b41;border-radius:8.00px;"></div>
<span id="t75" style="position:absolute;top:1899.32px;font-size:21.60px;line-height:1;color:#eef3f3;font-weight:700;white-space:nowrap;letter-spacing:0.296px;left:1592.80px;transform:translateX(-50%);margin-left:0.15px;">Next</span>
<div style="position:absolute;left:1692.80px;top:1426.00px;width:764.80px;height:542.00px;background:#264349;border-radius:16.00px;box-shadow:inset 0 0 0 2.80px #33545a;"></div>
<span id="t76" style="position:absolute;top:1469.16px;font-size:38.80px;line-height:1;color:#f2f6f6;font-weight:400;white-space:nowrap;letter-spacing:0.992px;left:1726.00px;-webkit-text-stroke:1.40px currentColor;">Monthly Sales History</span>
<div style="position:absolute;left:2262.40px;top:1460.00px;width:161.60px;height:54.00px;background:#5f7f7c;border-radius:27.00px;"></div>
<span id="t77" style="position:absolute;top:1477.91px;font-size:17.60px;line-height:1;color:#b7c9c7;font-weight:400;white-space:nowrap;letter-spacing:1.212px;left:2296.34px;">Weekly</span>
<svg style="position:absolute;left:2378.75px;top:1479.00px" width="20.00" height="16.00" viewBox="0 0 5 4"><path d="M1 1.2L2.5 2.7L4 1.2" fill="none" stroke="#b7c9c7" stroke-width="0.7" stroke-linecap="round" stroke-linejoin="round"/></svg>
<svg style="position:absolute;left:1692.00px;top:1540.00px" width="768.00" height="380.00" viewBox="0 0 192 95"><defs><linearGradient id="ag1" x1="0" y1="0" x2="0" y2="1"><stop offset="0" stop-color="#82dc45"/><stop offset="1" stop-color="#47d9c6"/></linearGradient></defs><path d="M8.0 11.5H183.0" stroke="#456568" stroke-width="0.6"/><path d="M8.0 23.5H183.0" stroke="#456568" stroke-width="0.6"/><path d="M8.0 35.5H183.0" stroke="#456568" stroke-width="0.6"/><path d="M8.0 47.5H183.0" stroke="#456568" stroke-width="0.6"/><path d="M8.0 22.6C9.4 22.7 13.3 23.7 16.3 23.3C19.3 22.9 22.6 21.8 25.8 20.2C29.0 18.6 32.1 15.5 35.3 13.8C38.5 12.1 41.8 10.3 44.8 10.2C47.8 10.1 50.7 11.2 53.1 13.1C55.5 15.0 57.4 18.0 59.0 21.4C60.6 24.8 61.2 28.6 62.6 33.3C64.0 38.1 65.5 45.7 67.3 49.9C69.1 54.0 70.7 56.0 73.3 58.2C75.9 60.4 79.8 62.6 82.8 62.9C85.8 63.2 88.7 61.5 91.1 59.9C93.5 58.3 94.8 55.5 97.0 53.4C99.2 51.3 101.9 48.7 104.1 47.5C106.3 46.3 107.7 46.3 110.1 46.3C112.5 46.3 116.2 47.2 118.4 47.5C120.6 47.8 121.5 48.8 123.1 48.2C124.7 47.6 125.9 46.6 127.9 43.9C129.9 41.2 132.8 35.3 135.0 32.1C137.2 28.9 138.9 26.4 140.9 24.9C142.9 23.4 144.7 22.8 146.9 23.0C149.1 23.2 151.9 24.2 154.0 26.1C156.1 28.0 157.6 30.6 159.2 34.4C160.8 38.2 162.2 45.7 163.5 48.7C164.8 51.7 165.7 52.3 167.1 52.3C168.5 52.3 170.2 50.7 171.8 48.7C173.4 46.7 174.7 42.4 176.6 40.4C178.5 38.4 181.9 37.4 183.0 36.8L183.0 89.0L8.0 89.0Z" fill="url(#ag1)"/><path d="M8.0 22.6C9.4 22.7 13.3 23.7 16.3 23.3C19.3 22.9 22.6 21.8 25.8 20.2C29.0 18.6 32.1 15.5 35.3 13.8C38.5 12.1 41.8 10.3 44.8 10.2C47.8 10.1 50.7 11.2 53.1 13.1C55.5 15.0 57.4 18.0 59.0 21.4C60.6 24.8 61.2 28.6 62.6 33.3C64.0 38.1 65.5 45.7 67.3 49.9C69.1 54.0 70.7 56.0 73.3 58.2C75.9 60.4 79.8 62.6 82.8 62.9C85.8 63.2 88.7 61.5 91.1 59.9C93.5 58.3 94.8 55.5 97.0 53.4C99.2 51.3 101.9 48.7 104.1 47.5C106.3 46.3 107.7 46.3 110.1 46.3C112.5 46.3 116.2 47.2 118.4 47.5C120.6 47.8 121.5 48.8 123.1 48.2C124.7 47.6 125.9 46.6 127.9 43.9C129.9 41.2 132.8 35.3 135.0 32.1C137.2 28.9 138.9 26.4 140.9 24.9C142.9 23.4 144.7 22.8 146.9 23.0C149.1 23.2 151.9 24.2 154.0 26.1C156.1 28.0 157.6 30.6 159.2 34.4C160.8 38.2 162.2 45.7 163.5 48.7C164.8 51.7 165.7 52.3 167.1 52.3C168.5 52.3 170.2 50.7 171.8 48.7C173.4 46.7 174.7 42.4 176.6 40.4C178.5 38.4 181.9 37.4 183.0 36.8" fill="none" stroke="#e4fad2" stroke-width="1.2"/></svg>
<span id="t78" style="position:absolute;top:1914.58px;font-size:27.20px;line-height:1;color:#eef3f3;font-weight:400;white-space:nowrap;letter-spacing:-0.348px;left:1726.00px;">Week 1</span>
<span id="t79" style="position:absolute;top:1914.58px;font-size:27.20px;line-height:1;color:#eef3f3;font-weight:400;white-space:nowrap;letter-spacing:-0.348px;left:1921.60px;">Week 2</span>
<span id="t80" style="position:absolute;top:1914.58px;font-size:27.20px;line-height:1;color:#eef3f3;font-weight:400;white-space:nowrap;letter-spacing:-0.348px;left:2125.60px;">Week 3</span>
<span id="t81" style="position:absolute;top:1914.58px;font-size:27.20px;line-height:1;color:#eef3f3;font-weight:400;white-space:nowrap;letter-spacing:-0.348px;left:2330.40px;">Week 4</span>
<div style="position:absolute;left:2530.40px;top:390.80px;width:497.60px;height:1609.20px;background:#142d34;border-radius:0.00px;"></div>
<span id="t82" style="position:absolute;top:427.62px;font-size:28.80px;line-height:1;color:#e3ecec;font-weight:400;white-space:nowrap;letter-spacing:-0.236px;left:2566.40px;">Dashboard<b style="color:#fff">, Admin</b></span>
<svg style="position:absolute;left:2974.40px;top:433.60px" width="24.00" height="20.00" viewBox="0 0 6 5"><path d="M0.2 0.6H5.6M0.2 2.55H5.6M0.2 4.5H5.6" stroke="#ffffff" stroke-width="0.75"/></svg>
<div style="position:absolute;left:2564.00px;top:492.00px;width:433.60px;height:56.00px;background:#28464b;border-radius:28.00px;box-shadow:inset 0 0 0 2.80px #40616a;"></div>
<svg style="position:absolute;left:2580.00px;top:508.00px" width="24.00" height="24.00" viewBox="0 0 6 6"><circle cx="2.6" cy="2.6" r="1.7" fill="none" stroke="#fff" stroke-width="1.05"/><path d="M4 4L5.1 5.1" stroke="#fff" stroke-width="1.1" stroke-linecap="round"/></svg>
<span id="t83" style="position:absolute;top:511.66px;font-size:16.00px;line-height:1;color:#dfe6e6;font-weight:700;white-space:nowrap;letter-spacing:0.436px;left:2613.60px;">Search</span>
<div style="position:absolute;left:2564.00px;top:561.60px;width:156.00px;height:54.40px;background:#28464b;border-radius:27.20px;box-shadow:inset 0 0 0 2.80px #40616a;"></div>
<svg style="position:absolute;left:2582.00px;top:580.00px" width="17.60" height="18.40" viewBox="0 0 4.4 4.6"><rect x="0.4" y="0.6" width="3.6" height="3.6" rx="0.4" fill="none" stroke="#cfdada" stroke-width="0.6"/><path d="M0.4 1.8H4" stroke="#cfdada" stroke-width="0.6"/></svg>
<span id="t84" style="position:absolute;top:582.36px;font-size:12.80px;line-height:1;color:#b9c9ca;font-weight:400;white-space:nowrap;letter-spacing:-0.224px;left:2608.00px;">Last 30 Days</span>
<svg style="position:absolute;left:2688.00px;top:582.00px" width="20.00" height="16.00" viewBox="0 0 5 4"><path d="M1 1.2L2.5 2.7L4 1.2" fill="none" stroke="#cfdada" stroke-width="0.7"/></svg>
<div style="position:absolute;left:2724.00px;top:561.60px;width:140.00px;height:54.40px;background:#28464b;border-radius:27.20px;box-shadow:inset 0 0 0 2.80px #40616a;"></div>
<span id="t85" style="position:absolute;top:582.36px;font-size:12.80px;line-height:1;color:#b9c9ca;font-weight:400;white-space:nowrap;letter-spacing:0.012px;left:2740.00px;">All Channels</span>
<svg style="position:absolute;left:2830.00px;top:582.00px" width="20.00" height="16.00" viewBox="0 0 5 4"><path d="M1 1.2L2.5 2.7L4 1.2" fill="none" stroke="#cfdada" stroke-width="0.7"/></svg>
<div style="position:absolute;left:2868.00px;top:561.60px;width:129.60px;height:54.40px;background:#28464b;border-radius:27.20px;box-shadow:inset 0 0 0 2.80px #40616a;"></div>
<span id="t86" style="position:absolute;top:582.36px;font-size:12.80px;line-height:1;color:#b9c9ca;font-weight:400;white-space:nowrap;letter-spacing:-0.284px;left:2882.40px;">Export CSV</span>
<svg style="position:absolute;left:2960.00px;top:578.00px" width="20.00" height="21.60" viewBox="0 0 5 5.4"><path d="M2.5 0.4L0.8 3.4H4.2ZM0.6 4.8H4.4" fill="#cfdada" stroke="#cfdada" stroke-width="0.5"/></svg>
<div style="position:absolute;left:2564.00px;top:645.60px;width:433.60px;height:142.80px;background:#264349;border-radius:12.00px;box-shadow:inset 0 0 0 2.80px #33545a;"></div>
<svg style="position:absolute;left:2588.00px;top:668.00px" width="38.40" height="38.40" viewBox="0 0 13.4 13.4"><rect width="13.4" height="13.4" rx="1.6" fill="#aee087"/><g transform="translate(6.7 6.7) scale(0.82) translate(-6.7 -6.7)"><path d="M4 9.6V4.2M4 9.6H9.4M6.2 9.6V6.4L7.8 7.6L9.2 5.2" fill="none" stroke="#1f4a2c" stroke-width="1.3" stroke-linejoin="round"/></g></svg>
<span id="t87" style="position:absolute;top:676.67px;font-size:20.00px;line-height:1;color:#dfe8e8;font-weight:400;white-space:nowrap;letter-spacing:0.320px;left:2637.60px;">Total Revenue</span>
<span id="t88" style="position:absolute;top:732.21px;font-size:30.00px;line-height:1;color:#fff;font-weight:700;white-space:nowrap;letter-spacing:0.700px;left:2588.00px;">$124,560</span>
<svg style="position:absolute;left:2914.40px;top:745.60px" width="14.40" height="14.40" viewBox="0 0 6 6"><path d="M1 5L5 1M2 1H5V4" fill="none" stroke="#7ed348" stroke-width="1" stroke-linecap="round" stroke-linejoin="round"/></svg>
<span id="t89" style="position:absolute;top:746.09px;font-size:13.60px;line-height:1;color:#7ed348;font-weight:400;white-space:nowrap;right:228.80px;">12.5%</span>
<div style="position:absolute;left:2564.00px;top:802.80px;width:433.60px;height:142.80px;background:#264349;border-radius:12.00px;box-shadow:inset 0 0 0 2.80px #33545a;"></div>
<svg style="position:absolute;left:2588.00px;top:825.20px" width="38.40" height="38.40" viewBox="0 0 13.4 13.4"><rect width="13.4" height="13.4" rx="1.6" fill="#aee087"/><g transform="translate(6.7 6.7) scale(0.82) translate(-6.7 -6.7)"><path d="M4.4 5.2H9Q10 5.2 10 6.2V9Q10 10 9 10H4.4Q3.4 10 3.4 9V6.2Q3.4 5.2 4.4 5.2ZM5 5V3.6H8.4V5M5.6 7.6H7.8" fill="none" stroke="#1f4a2c" stroke-width="1.1" stroke-linejoin="round"/></g></svg>
<span id="t90" style="position:absolute;top:833.87px;font-size:20.00px;line-height:1;color:#dfe8e8;font-weight:400;white-space:nowrap;letter-spacing:0.692px;left:2637.60px;">Total Order</span>
<span id="t91" style="position:absolute;top:889.40px;font-size:30.00px;line-height:1;color:#fff;font-weight:700;white-space:nowrap;letter-spacing:-0.328px;left:2588.00px;">1,212,5678</span>
<svg style="position:absolute;left:2914.40px;top:902.80px" width="14.40" height="14.40" viewBox="0 0 6 6"><path d="M1 5L5 1M2 1H5V4" fill="none" stroke="#7ed348" stroke-width="1" stroke-linecap="round" stroke-linejoin="round"/></svg>
<span id="t92" style="position:absolute;top:903.29px;font-size:13.60px;line-height:1;color:#7ed348;font-weight:400;white-space:nowrap;right:228.80px;">12.5%</span>
<div style="position:absolute;left:2564.00px;top:960.00px;width:433.60px;height:142.80px;background:#264349;border-radius:12.00px;box-shadow:inset 0 0 0 2.80px #33545a;"></div>
<svg style="position:absolute;left:2588.00px;top:982.40px" width="38.40" height="38.40" viewBox="0 0 13.4 13.4"><rect width="13.4" height="13.4" rx="1.6" fill="#aee087"/><g transform="translate(6.7 6.7) scale(0.82) translate(-6.7 -6.7)"><path d="M8.6 4.8Q8.2 3.8 6.7 3.8Q5 3.8 5 5.1Q5 6.3 6.7 6.6Q8.6 6.9 8.6 8.2Q8.6 9.6 6.7 9.6Q5.2 9.6 4.8 8.5M6.7 2.8V10.6" fill="none" stroke="#1f4a2c" stroke-width="1.1" stroke-linecap="round"/></g></svg>
<span id="t93" style="position:absolute;top:991.07px;font-size:20.00px;line-height:1;color:#dfe8e8;font-weight:400;white-space:nowrap;letter-spacing:0.516px;left:2637.60px;">Avg. Order Value</span>
<span id="t94" style="position:absolute;top:1046.61px;font-size:30.00px;line-height:1;color:#fff;font-weight:700;white-space:nowrap;letter-spacing:0.196px;left:2588.00px;">$451.252</span>
<svg style="position:absolute;left:2914.40px;top:1060.00px" width="14.40" height="14.40" viewBox="0 0 6 6"><path d="M1 5L5 1M2 1H5V4" fill="none" stroke="#7ed348" stroke-width="1" stroke-linecap="round" stroke-linejoin="round"/></svg>
<span id="t95" style="position:absolute;top:1060.49px;font-size:13.60px;line-height:1;color:#7ed348;font-weight:400;white-space:nowrap;right:228.80px;">12.5%</span>
<div style="position:absolute;left:2564.00px;top:1117.20px;width:433.60px;height:142.80px;background:#264349;border-radius:12.00px;box-shadow:inset 0 0 0 2.80px #33545a;"></div>
<svg style="position:absolute;left:2588.00px;top:1139.60px" width="38.40" height="38.40" viewBox="0 0 13.4 13.4"><rect width="13.4" height="13.4" rx="1.6" fill="#aee087"/><g transform="translate(6.7 6.7) scale(0.82) translate(-6.7 -6.7)"><path d="M3.2 4.6H8.6L7.2 3.2M10.2 8.8H4.8L6.2 10.2M3.2 6.7H10.2" fill="none" stroke="#1f4a2c" stroke-width="1.1" stroke-linecap="round" stroke-linejoin="round"/></g></svg>
<span id="t96" style="position:absolute;top:1148.27px;font-size:20.00px;line-height:1;color:#dfe8e8;font-weight:400;white-space:nowrap;letter-spacing:0.528px;left:2637.60px;">Conversion Rate</span>
<span id="t97" style="position:absolute;top:1203.81px;font-size:30.00px;line-height:1;color:#fff;font-weight:700;white-space:nowrap;letter-spacing:-0.312px;left:2588.00px;">32.4%</span>
<svg style="position:absolute;left:2914.40px;top:1217.20px" width="14.40" height="14.40" viewBox="0 0 6 6"><path d="M1 1L5 5M2 5H5V2" fill="none" stroke="#e5383b" stroke-width="1" stroke-linecap="round" stroke-linejoin="round"/></svg>
<span id="t98" style="position:absolute;top:1217.69px;font-size:13.60px;line-height:1;color:#e5383b;font-weight:400;white-space:nowrap;right:228.80px;">-18%</span>
<div style="position:absolute;left:2564.00px;top:1276.00px;width:433.60px;height:341.60px;background:#264349;border-radius:12.00px;box-shadow:inset 0 0 0 2.80px #33545a;"></div>
<span id="t99" style="position:absolute;top:1300.92px;font-size:21.60px;line-height:1;color:#f2f6f6;font-weight:400;white-space:nowrap;letter-spacing:-0.968px;left:2588.00px;-webkit-text-stroke:0.60px currentColor;">Sales Revenue by Month</span>
<span id="t100" style="position:absolute;top:1324.92px;font-size:11.20px;line-height:1;color:#9fb2b3;font-weight:400;white-space:nowrap;letter-spacing:0.928px;left:2588.00px;">Monthly revenue trends to monitor sales growth</span>
<div style="position:absolute;left:2932.00px;top:1300.00px;width:40.00px;height:40.00px;background:transparent;border-radius:4.00px;box-shadow:inset 0 0 0 2.40px #4f8539;"></div>
<svg style="position:absolute;left:2944.80px;top:1310.80px" width="16.00" height="18.40" viewBox="0 0 4 4.6"><path d="M1.5 1.2L2.6 2.3L1.5 3.4" fill="none" stroke="#6ab840" stroke-width="0.6" stroke-linecap="round" stroke-linejoin="round"/></svg>
<div style="position:absolute;left:2628.00px;top:1379.80px;width:344.00px;height:2.00px;background:#33535a;border-radius:0.00px;"></div>
<span id="t101" style="position:absolute;top:1377.72px;font-size:11.20px;line-height:1;color:#9fb2b3;font-weight:400;white-space:nowrap;letter-spacing:0.304px;left:2592.00px;">$100k</span>
<div style="position:absolute;left:2628.00px;top:1420.60px;width:344.00px;height:2.00px;background:#33535a;border-radius:0.00px;"></div>
<span id="t102" style="position:absolute;top:1418.52px;font-size:11.20px;line-height:1;color:#9fb2b3;font-weight:400;white-space:nowrap;letter-spacing:0.732px;left:2592.00px;">$75k</span>
<div style="position:absolute;left:2628.00px;top:1461.40px;width:344.00px;height:2.00px;background:#33535a;border-radius:0.00px;"></div>
<span id="t103" style="position:absolute;top:1459.32px;font-size:11.20px;line-height:1;color:#9fb2b3;font-weight:400;white-space:nowrap;letter-spacing:0.932px;left:2592.00px;">$50k</span>
<div style="position:absolute;left:2628.00px;top:1502.20px;width:344.00px;height:2.00px;background:#33535a;border-radius:0.00px;"></div>
<span id="t104" style="position:absolute;top:1500.12px;font-size:11.20px;line-height:1;color:#9fb2b3;font-weight:400;white-space:nowrap;letter-spacing:0.832px;left:2592.00px;">$25k</span>
<div style="position:absolute;left:2634.40px;top:1457.60px;width:24.00px;height:108.00px;background:#7ed84a;border-radius:0.00px;"></div>
<div style="position:absolute;left:2665.60px;top:1500.00px;width:24.00px;height:65.60px;background:#4ad8c8;border-radius:0.00px;"></div>
<div style="position:absolute;left:2696.80px;top:1408.00px;width:24.00px;height:157.60px;background:#7ed84a;border-radius:0.00px;"></div>
<div style="position:absolute;left:2728.00px;top:1444.00px;width:24.00px;height:121.60px;background:#4ad8c8;border-radius:0.00px;"></div>
<div style="position:absolute;left:2759.20px;top:1494.40px;width:24.00px;height:71.20px;background:#7ed84a;border-radius:0.00px;"></div>
<div style="position:absolute;left:2790.40px;top:1376.00px;width:24.00px;height:189.60px;background:#4ad8c8;border-radius:0.00px;"></div>
<div style="position:absolute;left:2821.60px;top:1457.60px;width:24.00px;height:108.00px;background:#7ed84a;border-radius:0.00px;"></div>
<div style="position:absolute;left:2852.80px;top:1400.00px;width:24.00px;height:165.60px;background:#4ad8c8;border-radius:0.00px;"></div>
<div style="position:absolute;left:2884.00px;top:1424.00px;width:24.00px;height:141.60px;background:#7ed84a;border-radius:0.00px;"></div>
<div style="position:absolute;left:2915.20px;top:1538.40px;width:24.00px;height:27.20px;background:#4ad8c8;border-radius:0.00px;"></div>
<div style="position:absolute;left:2946.40px;top:1408.00px;width:24.00px;height:157.60px;background:#7ed84a;border-radius:0.00px;"></div>
<span id="t105" style="position:absolute;top:1583.20px;font-size:10.40px;line-height:1;color:#9fb2b3;font-weight:400;white-space:nowrap;letter-spacing:0.544px;left:2626.40px;transform:translateX(-50%);margin-left:0.27px;">Jan</span>
<span id="t106" style="position:absolute;top:1583.20px;font-size:10.40px;line-height:1;color:#9fb2b3;font-weight:400;white-space:nowrap;letter-spacing:0.164px;left:2656.72px;transform:translateX(-50%);margin-left:0.08px;">Feb</span>
<span id="t107" style="position:absolute;top:1583.20px;font-size:10.40px;line-height:1;color:#9fb2b3;font-weight:400;white-space:nowrap;letter-spacing:0.164px;left:2687.04px;transform:translateX(-50%);margin-left:0.08px;">Mar</span>
<span id="t108" style="position:absolute;top:1583.20px;font-size:10.40px;line-height:1;color:#9fb2b3;font-weight:400;white-space:nowrap;letter-spacing:0.744px;left:2717.36px;transform:translateX(-50%);margin-left:0.37px;">Apr</span>
<span id="t109" style="position:absolute;top:1583.20px;font-size:10.40px;line-height:1;color:#9fb2b3;font-weight:400;white-space:nowrap;letter-spacing:-0.412px;left:2747.68px;transform:translateX(-50%);margin-left:-0.21px;">May</span>
<span id="t110" style="position:absolute;top:1583.20px;font-size:10.40px;line-height:1;color:#9fb2b3;font-weight:400;white-space:nowrap;letter-spacing:0.544px;left:2778.00px;transform:translateX(-50%);margin-left:0.27px;">Jun</span>
<span id="t111" style="position:absolute;top:1583.20px;font-size:10.40px;line-height:1;color:#9fb2b3;font-weight:400;white-space:nowrap;letter-spacing:1.700px;left:2808.32px;transform:translateX(-50%);margin-left:0.85px;">Jul</span>
<span id="t112" style="position:absolute;top:1583.20px;font-size:10.40px;line-height:1;color:#9fb2b3;font-weight:400;white-space:nowrap;letter-spacing:0.164px;left:2838.64px;transform:translateX(-50%);margin-left:0.08px;">Ags</span>
<span id="t113" style="position:absolute;top:1583.20px;font-size:10.40px;line-height:1;color:#9fb2b3;font-weight:400;white-space:nowrap;letter-spacing:-0.032px;left:2868.96px;transform:translateX(-50%);margin-left:-0.02px;">Sep</span>
<span id="t114" style="position:absolute;top:1583.20px;font-size:10.40px;line-height:1;color:#9fb2b3;font-weight:400;white-space:nowrap;letter-spacing:0.744px;left:2899.28px;transform:translateX(-50%);margin-left:0.37px;">Oct</span>
<span id="t115" style="position:absolute;top:1583.20px;font-size:10.40px;line-height:1;color:#9fb2b3;font-weight:400;white-space:nowrap;letter-spacing:-0.028px;left:2929.60px;transform:translateX(-50%);margin-left:-0.01px;">Nov</span>
<span id="t116" style="position:absolute;top:1583.20px;font-size:10.40px;line-height:1;color:#9fb2b3;font-weight:400;white-space:nowrap;letter-spacing:-0.028px;left:2959.92px;transform:translateX(-50%);margin-left:-0.01px;">Dec</span>
<div style="position:absolute;left:2564.00px;top:1637.20px;width:433.60px;height:442.80px;background:#264349;border-radius:12.00px;box-shadow:inset 0 0 0 2.80px #33545a;"></div>
<span id="t117" style="position:absolute;top:1668.12px;font-size:21.60px;line-height:1;color:#f2f6f6;font-weight:400;white-space:nowrap;letter-spacing:-0.896px;left:2587.60px;-webkit-text-stroke:0.60px currentColor;">Order Performance</span>
<div style="position:absolute;left:2852.00px;top:1661.60px;width:119.20px;height:38.40px;background:#5f7f7c;border-radius:19.20px;"></div>
<span id="t118" style="position:absolute;top:1673.98px;font-size:13.20px;line-height:1;color:#b7c9c7;font-weight:400;white-space:nowrap;letter-spacing:0.780px;left:2877.03px;">Weekly</span>
<svg style="position:absolute;left:2937.82px;top:1672.80px" width="20.00" height="16.00" viewBox="0 0 5 4"><path d="M1 1.2L2.5 2.7L4 1.2" fill="none" stroke="#b7c9c7" stroke-width="0.7" stroke-linecap="round" stroke-linejoin="round"/></svg>
<span id="t119" style="position:absolute;top:1731.38px;font-size:16.80px;line-height:1;color:#b9c9ca;font-weight:400;white-space:nowrap;letter-spacing:0.492px;left:2587.60px;">Store Visit</span>
<span id="t120" style="position:absolute;top:1731.38px;font-size:16.80px;line-height:1;color:#b9c9ca;font-weight:400;white-space:nowrap;letter-spacing:0.244px;right:228.56px;">28.390</span>
<div style="position:absolute;left:2587.60px;top:1766.40px;width:383.60px;height:18.40px;background:#122b33;border-radius:0.00px;"></div>
<div style="position:absolute;left:2587.60px;top:1766.40px;width:270.40px;height:18.40px;background:#7ed84a;border-radius:0.00px;"></div>
<span id="t121" style="position:absolute;top:1798.58px;font-size:16.80px;line-height:1;color:#b9c9ca;font-weight:400;white-space:nowrap;letter-spacing:0.632px;left:2587.60px;">Product Views</span>
<span id="t122" style="position:absolute;top:1798.58px;font-size:16.80px;line-height:1;color:#b9c9ca;font-weight:400;white-space:nowrap;letter-spacing:0.244px;right:228.56px;">28.390</span>
<div style="position:absolute;left:2587.60px;top:1833.12px;width:383.60px;height:18.40px;background:#122b33;border-radius:0.00px;"></div>
<div style="position:absolute;left:2587.60px;top:1833.12px;width:248.40px;height:18.40px;background:#4ad8c8;border-radius:0.00px;"></div>
<span id="t123" style="position:absolute;top:1865.78px;font-size:16.80px;line-height:1;color:#b9c9ca;font-weight:400;white-space:nowrap;letter-spacing:0.828px;left:2587.60px;">Add to Cart</span>
<span id="t124" style="position:absolute;top:1865.78px;font-size:16.80px;line-height:1;color:#b9c9ca;font-weight:400;white-space:nowrap;letter-spacing:0.244px;right:228.56px;">28.390</span>
<div style="position:absolute;left:2587.60px;top:1899.84px;width:383.60px;height:18.40px;background:#122b33;border-radius:0.00px;"></div>
<div style="position:absolute;left:2587.60px;top:1899.84px;width:120.80px;height:18.40px;background:#7ed84a;border-radius:0.00px;"></div>
<span id="t125" style="position:absolute;top:1932.98px;font-size:16.80px;line-height:1;color:#b9c9ca;font-weight:400;white-space:nowrap;letter-spacing:0.788px;left:2587.60px;">Checkout</span>
<span id="t126" style="position:absolute;top:1932.98px;font-size:16.80px;line-height:1;color:#b9c9ca;font-weight:400;white-space:nowrap;letter-spacing:0.244px;right:228.56px;">28.390</span>
<div style="position:absolute;left:2587.60px;top:1966.56px;width:383.60px;height:18.40px;background:#122b33;border-radius:0.00px;"></div>
<div style="position:absolute;left:2587.60px;top:1966.56px;width:344.40px;height:18.40px;background:#4ad8c8;border-radius:0.00px;"></div>
<div style="position:absolute;left:-120.00px;top:1781.60px;width:908.00px;height:208.00px;background:linear-gradient(90deg,#426b5b 120px,#446e5e 240px,#50786a 272px,#6d8c80 304px,#869a91 332px,#9ea7a3 360px,#a9aaaa 392px,#adadad 560px,#a9a9a9 712px,#989b9b 748px,#808787 776px,#687272 800px,#4b5b5d 832px,#2f4549 864px,#213a40 908px);border-radius:104.00px;"></div>
<svg style="position:absolute;left:211.60px;top:1820.40px" width="132.00" height="132.00" viewBox="0 0 33 33"><circle cx="16.5" cy="16.5" r="16.1" fill="#fff"/></svg>
<svg style="position:absolute;left:373.20px;top:1820.40px" width="132.00" height="132.00" viewBox="0 0 33 33"><circle cx="16.5" cy="16.5" r="16.1" fill="#fff"/></svg>
<svg style="position:absolute;left:538.00px;top:1820.40px" width="132.00" height="132.00" viewBox="0 0 33 33"><circle cx="16.5" cy="16.5" r="16.1" fill="#fff"/></svg>
<svg style="position:absolute;left:256.40px;top:1855.60px" width="40.80" height="61.20" viewBox="0 0 11 16.5"><path d="M2.75 0H5.5V5.5H2.75A2.75 2.75 0 0 1 2.75 0Z" fill="#f24e1e"/><path d="M5.5 0H8.25A2.75 2.75 0 0 1 8.25 5.5H5.5Z" fill="#ff7262"/><path d="M2.75 5.5H5.5V11H2.75A2.75 2.75 0 0 1 2.75 5.5Z" fill="#a259ff"/><circle cx="8.25" cy="8.25" r="2.75" fill="#1abcfe"/><path d="M2.75 11H5.5V13.75A2.75 2.75 0 1 1 2.75 11Z" fill="#0acf83"/></svg>
<svg style="position:absolute;left:408.80px;top:1858.00px" width="64.00" height="54.80" viewBox="0 0 15 13.6"><path d="M3.3 0.4L7.5 0L11.7 0.4L15 4.9L7.5 13.6L0 4.9Z" fill="#fdb300"/><path d="M3 4.9L7.5 13.6L0 4.9ZM12 4.9L7.5 13.6L15 4.9Z" fill="#ea6c00"/><path d="M3 4.9H12L7.5 13.6Z" fill="#fdad00"/><path d="M7.5 0L3 4.9H12Z" fill="#fed305"/><path d="M3.3 0.4L3 4.9L7.5 0ZM11.7 0.4L12 4.9L7.5 0Z" fill="#feeeb7" opacity="0.0"/></svg>
<div style="position:absolute;left:572.00px;top:1853.60px;width:61.60px;height:62.80px;background:#470137;border-radius:9.60px;"></div>
<span id="t127" style="position:absolute;top:1866.57px;font-size:37.60px;line-height:1;color:#ff61f6;font-weight:700;white-space:nowrap;left:603.20px;transform:translateX(-50%);margin-left:0.00px;">Xd</span>
</div></div></body></html>
